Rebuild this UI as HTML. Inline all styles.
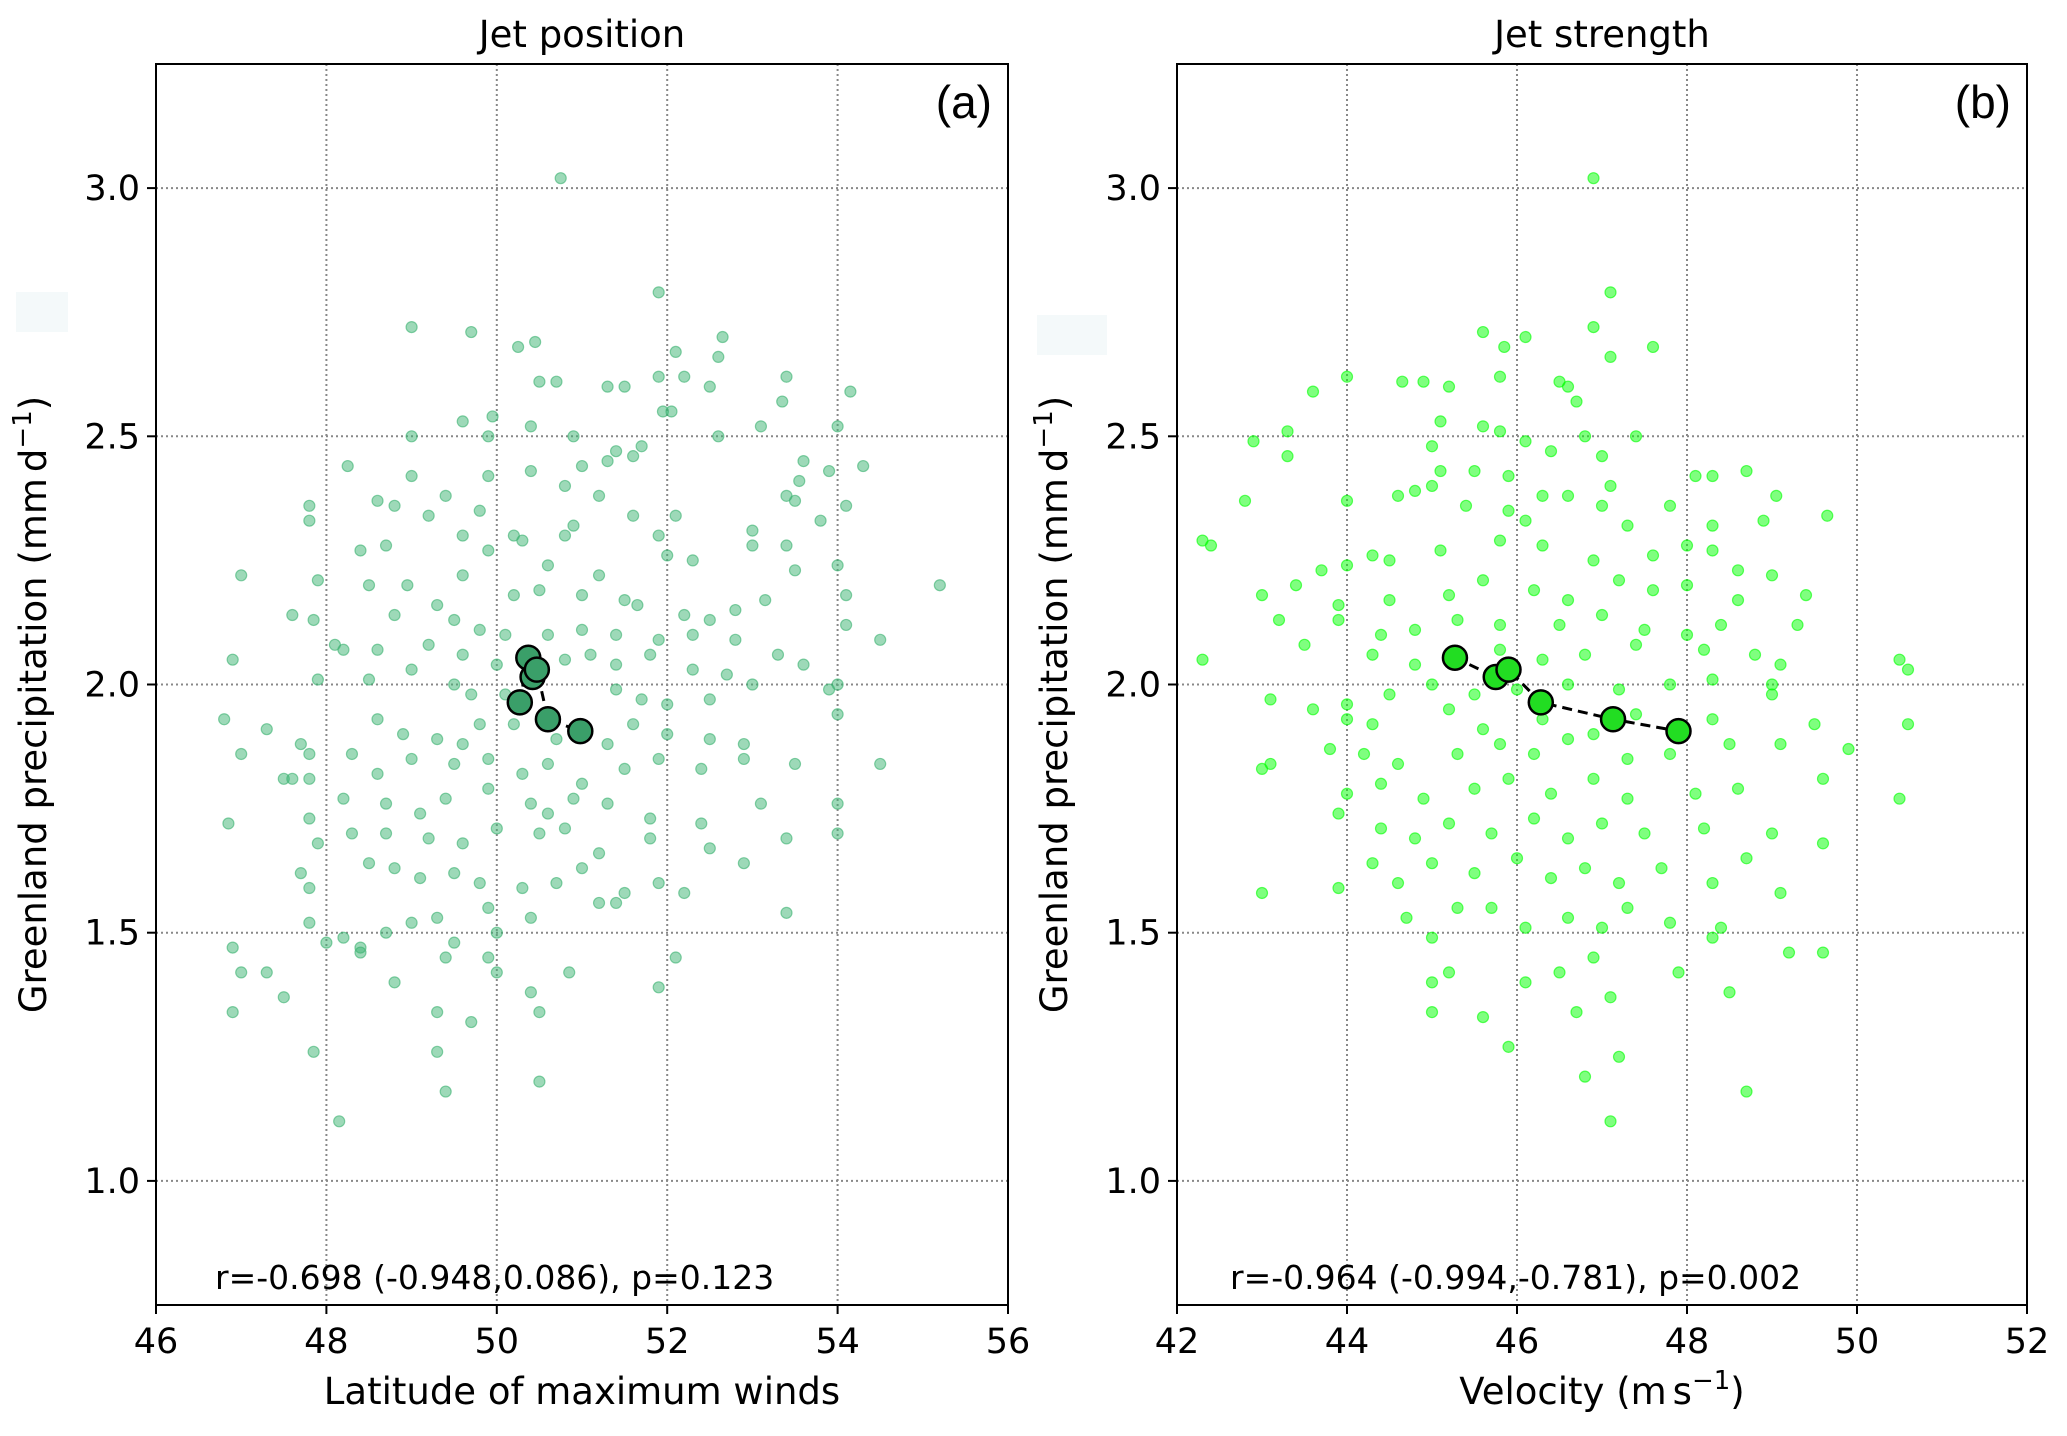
<!DOCTYPE html>
<html><head><meta charset="utf-8"><style>
body{margin:0;background:#fff}
svg{display:block;font-family:"DejaVu Sans","Liberation Sans",sans-serif}
</style></head><body>
<svg id="fig" width="2067" height="1436" viewBox="0 0 2067 1436" xmlns="http://www.w3.org/2000/svg"></svg>
<script>
const yTicks=[1.0,1.5,2.0,2.5,3.0];
const yTickLabels=["1.0","1.5","2.0","2.5","3.0"];
const xTicksA=[46,48,50,52,54,56];
const xTicksB=[42,44,46,48,50,52];
const pointsA=[[50.75,3.02],[51.9,2.79],[49.0,2.72],[49.7,2.71],[52.65,2.70],[50.25,2.68],[50.45,2.69],[52.1,2.67],[52.6,2.66],[50.5,2.61],[50.7,2.61],[51.5,2.60],[52.5,2.60],[53.4,2.62],[54.15,2.59],[51.3,2.60],[51.9,2.62],[52.2,2.62],[53.35,2.57],[51.95,2.55],[52.05,2.55],[49.0,2.50],[49.95,2.54],[49.6,2.53],[50.4,2.52],[49.9,2.50],[50.9,2.50],[52.6,2.50],[53.1,2.52],[54.0,2.52],[51.7,2.48],[51.4,2.47],[51.6,2.46],[53.6,2.45],[53.9,2.43],[54.3,2.44],[53.55,2.41],[48.25,2.44],[49.0,2.42],[49.4,2.38],[49.9,2.42],[50.4,2.43],[51.0,2.44],[51.3,2.45],[51.2,2.38],[50.8,2.40],[49.8,2.35],[47.8,2.36],[47.8,2.33],[48.6,2.37],[48.8,2.36],[48.7,2.28],[48.4,2.27],[49.2,2.34],[49.6,2.30],[50.2,2.30],[50.3,2.29],[51.6,2.34],[52.1,2.34],[53.0,2.31],[53.4,2.38],[53.5,2.37],[53.8,2.33],[54.1,2.36],[53.0,2.28],[53.4,2.28],[52.3,2.25],[51.9,2.30],[52.0,2.26],[49.9,2.27],[50.8,2.30],[50.9,2.32],[50.6,2.24],[48.95,2.20],[48.5,2.20],[47.9,2.21],[49.3,2.16],[49.6,2.22],[50.2,2.18],[50.5,2.19],[51.0,2.18],[51.2,2.22],[51.5,2.17],[51.65,2.16],[52.2,2.14],[52.5,2.13],[52.8,2.15],[53.15,2.17],[53.5,2.23],[54.0,2.24],[54.1,2.18],[54.1,2.12],[55.2,2.20],[47.0,2.22],[47.6,2.14],[47.85,2.13],[48.8,2.14],[49.5,2.13],[49.8,2.11],[50.1,2.10],[50.6,2.10],[51.0,2.11],[51.4,2.10],[51.9,2.09],[52.3,2.10],[52.8,2.09],[53.3,2.06],[53.6,2.04],[54.5,2.09],[54.0,2.00],[46.9,2.05],[48.1,2.08],[48.2,2.07],[48.6,2.07],[49.2,2.08],[49.6,2.06],[50.0,2.04],[50.8,2.05],[51.1,2.06],[51.4,2.04],[51.8,2.06],[52.3,2.03],[52.7,2.02],[53.0,2.00],[53.9,1.99],[47.9,2.01],[48.5,2.01],[49.0,2.03],[49.5,2.00],[49.7,1.98],[50.1,1.98],[51.4,1.99],[51.7,1.97],[52.0,1.96],[52.5,1.97],[46.8,1.93],[47.3,1.91],[47.7,1.88],[47.8,1.86],[48.6,1.93],[48.9,1.90],[49.3,1.89],[49.6,1.88],[49.8,1.92],[50.2,1.92],[50.7,1.89],[51.3,1.88],[51.6,1.92],[52.0,1.90],[52.5,1.89],[52.9,1.88],[53.5,1.84],[54.0,1.94],[54.5,1.84],[47.0,1.86],[47.5,1.81],[47.6,1.81],[47.8,1.81],[48.3,1.86],[48.6,1.82],[49.0,1.85],[49.5,1.84],[49.9,1.85],[50.3,1.82],[50.6,1.84],[51.0,1.80],[51.5,1.83],[51.9,1.85],[52.4,1.83],[52.9,1.85],[48.2,1.77],[48.7,1.76],[49.1,1.74],[49.4,1.77],[49.9,1.79],[50.4,1.76],[50.6,1.74],[50.9,1.77],[51.3,1.76],[51.8,1.73],[52.4,1.72],[53.1,1.76],[54.0,1.76],[47.8,1.73],[48.3,1.70],[48.7,1.70],[49.2,1.69],[49.6,1.68],[50.0,1.71],[50.5,1.70],[50.8,1.71],[51.2,1.66],[51.8,1.69],[52.5,1.67],[53.4,1.69],[54.0,1.70],[46.85,1.72],[47.7,1.62],[47.8,1.59],[47.9,1.68],[48.5,1.64],[48.8,1.63],[49.1,1.61],[49.5,1.62],[49.8,1.60],[50.3,1.59],[50.7,1.60],[51.0,1.63],[51.5,1.58],[51.9,1.60],[52.2,1.58],[52.9,1.64],[47.8,1.52],[48.2,1.49],[48.4,1.47],[48.7,1.50],[49.0,1.52],[49.3,1.53],[49.5,1.48],[49.9,1.55],[50.0,1.50],[50.4,1.53],[51.2,1.56],[51.4,1.56],[53.4,1.54],[46.9,1.47],[47.0,1.42],[47.3,1.42],[47.5,1.37],[46.9,1.34],[48.0,1.48],[48.4,1.46],[48.8,1.40],[49.4,1.45],[49.9,1.45],[50.0,1.42],[50.4,1.38],[50.85,1.42],[51.9,1.39],[52.1,1.45],[49.3,1.34],[49.7,1.32],[50.5,1.34],[47.85,1.26],[49.3,1.26],[49.4,1.18],[50.5,1.20],[48.15,1.12]];
const pointsB=[[46.9,3.02],[47.1,2.79],[45.6,2.71],[46.9,2.72],[45.85,2.68],[46.1,2.70],[47.6,2.68],[47.1,2.66],[44.0,2.62],[43.6,2.59],[44.65,2.61],[44.9,2.61],[45.2,2.60],[45.8,2.62],[46.5,2.61],[46.6,2.60],[46.7,2.57],[45.1,2.53],[45.6,2.52],[45.0,2.48],[45.1,2.43],[45.8,2.51],[46.1,2.49],[46.4,2.47],[46.8,2.50],[47.4,2.50],[47.0,2.46],[42.9,2.49],[43.3,2.51],[43.3,2.46],[44.6,2.38],[44.8,2.39],[45.0,2.40],[45.5,2.43],[45.9,2.42],[46.3,2.38],[46.6,2.38],[47.1,2.40],[48.1,2.42],[48.3,2.42],[48.7,2.43],[42.8,2.37],[44.0,2.37],[45.4,2.36],[45.9,2.35],[46.1,2.33],[47.0,2.36],[47.3,2.32],[47.8,2.36],[48.3,2.32],[48.9,2.33],[49.65,2.34],[49.05,2.38],[42.3,2.29],[42.4,2.28],[43.7,2.23],[44.0,2.24],[44.3,2.26],[44.5,2.25],[45.1,2.27],[45.8,2.29],[46.3,2.28],[46.9,2.25],[47.6,2.26],[48.0,2.28],[48.3,2.27],[48.6,2.23],[43.4,2.20],[43.0,2.18],[43.9,2.16],[44.5,2.17],[45.2,2.18],[45.6,2.21],[46.2,2.19],[46.6,2.17],[47.2,2.21],[47.6,2.19],[48.0,2.20],[48.6,2.17],[49.0,2.22],[49.4,2.18],[43.2,2.13],[43.9,2.13],[44.4,2.10],[44.8,2.11],[45.3,2.13],[45.8,2.12],[46.5,2.12],[47.0,2.14],[47.5,2.11],[48.0,2.10],[48.4,2.12],[49.3,2.12],[43.5,2.08],[44.3,2.06],[44.8,2.04],[45.8,2.07],[46.3,2.05],[46.8,2.06],[47.4,2.08],[48.2,2.07],[48.8,2.06],[49.1,2.04],[42.3,2.05],[50.5,2.05],[50.6,2.03],[44.0,1.96],[44.5,1.98],[45.0,2.00],[45.5,1.98],[46.0,1.99],[46.6,2.00],[47.2,1.99],[47.8,2.00],[48.3,2.01],[49.0,1.98],[49.0,2.00],[43.1,1.97],[43.6,1.95],[44.0,1.93],[44.3,1.92],[45.2,1.95],[45.6,1.91],[46.3,1.93],[46.9,1.90],[47.4,1.94],[48.3,1.93],[49.5,1.92],[50.6,1.92],[43.0,1.83],[43.1,1.84],[43.8,1.87],[44.2,1.86],[44.6,1.84],[45.3,1.86],[45.8,1.88],[46.2,1.86],[46.6,1.89],[47.3,1.85],[47.8,1.86],[48.5,1.88],[49.1,1.88],[49.9,1.87],[49.6,1.81],[44.0,1.78],[44.4,1.80],[44.9,1.77],[45.5,1.79],[45.9,1.81],[46.4,1.78],[46.9,1.81],[47.3,1.77],[48.1,1.78],[48.6,1.79],[43.9,1.74],[44.4,1.71],[44.8,1.69],[45.2,1.72],[45.7,1.70],[46.2,1.73],[46.6,1.69],[47.0,1.72],[47.5,1.70],[48.2,1.71],[49.0,1.70],[49.6,1.68],[50.5,1.77],[44.3,1.64],[44.6,1.60],[45.0,1.64],[45.5,1.62],[46.0,1.65],[46.4,1.61],[46.8,1.63],[47.2,1.60],[47.7,1.63],[48.3,1.60],[48.7,1.65],[49.1,1.58],[43.9,1.59],[43.0,1.58],[44.7,1.53],[45.0,1.49],[45.3,1.55],[45.7,1.55],[46.1,1.51],[46.6,1.53],[47.0,1.51],[47.3,1.55],[47.8,1.52],[48.3,1.49],[48.4,1.51],[49.2,1.46],[49.6,1.46],[45.0,1.40],[45.2,1.42],[46.1,1.40],[46.5,1.42],[46.9,1.45],[47.1,1.37],[47.9,1.42],[48.5,1.38],[45.0,1.34],[45.6,1.33],[46.7,1.34],[45.9,1.27],[47.2,1.25],[46.8,1.21],[48.7,1.18],[47.1,1.12]];
const binsAx=[50.37,50.42,50.47,50.27,50.6,50.98];
const binsAy=[2.054,2.015,2.03,1.964,1.93,1.906];
const binsBx=[45.27,45.75,45.9,46.28,47.13,47.9];
const binsBy=[2.054,2.015,2.03,1.964,1.93,1.906];

const NS="http://www.w3.org/2000/svg";
const svg=document.getElementById('fig');
function mk(tag,attrs,parent,text){const e=document.createElementNS(NS,tag);for(const k in attrs)e.setAttribute(k,attrs[k]);if(text!==undefined)e.textContent=text;(parent||svg).appendChild(e);return e;}
const TOP=64,BOT=1305,YMIN=0.75,YMAX=3.25;
function yS(v){return BOT-(v-YMIN)/(YMAX-YMIN)*(BOT-TOP);}

function panel(cfg){
  const g=mk('g',{});
  
  
  const xS=v=>cfg.L+(v-cfg.xmin)/(cfg.xmax-cfg.xmin)*(cfg.R-cfg.L);
  const ar=mk('rect',{x:cfg.L-140,y:cfg.artY,width:cfg.artW,height:40,fill:'#f4f9fa'},g);
  
  cfg.xticks.forEach(t=>{const l=mk('line',{x1:xS(t),x2:xS(t),y1:TOP,y2:BOT,stroke:'#888',"stroke-width":2,"stroke-dasharray":"2,3"},g);});
  yTicks.forEach(t=>{const l=mk('line',{x1:cfg.L,x2:cfg.R,y1:yS(t),y2:yS(t),stroke:'#888',"stroke-width":2,"stroke-dasharray":"2,3"},g);});
  cfg.pts.forEach(p=>{const c=mk('circle',{cx:xS(p[0]),cy:yS(p[1]),r:5.5,fill:cfg.col,"fill-opacity":0.5,stroke:cfg.col,"stroke-opacity":0.6,"stroke-width":1.2},g);});
  const idx=cfg.bx.map((v,i)=>i).sort((a,b)=>cfg.bx[a]-cfg.bx[b]);
  const d=idx.map((i,k)=>(k?'L':'M')+xS(cfg.bx[i])+','+yS(cfg.by[i])).join(' ');
  const pl=mk('path',{d:d,fill:'none',stroke:'#000',"stroke-width":3,"stroke-dasharray":"10,6"},g);
  
  cfg.bx.forEach((v,i)=>{const c=mk('circle',{cx:xS(v),cy:yS(cfg.by[i]),r:12,fill:cfg.bcol,stroke:'#000',"stroke-width":2.5},g);});
  const fr=mk('rect',{x:cfg.L,y:TOP,width:cfg.R-cfg.L,height:BOT-TOP,fill:'none',stroke:'#000',"stroke-width":2},g);
  
  cfg.xticks.forEach(t=>{mk('line',{x1:xS(t),x2:xS(t),y1:BOT,y2:BOT+9,stroke:'#000',"stroke-width":2},g);
    const tx=mk('text',{x:xS(t),y:BOT+48,"text-anchor":"middle","font-size":35},g,String(t));});
  yTicks.forEach((t,i)=>{mk('line',{x1:cfg.L-9,x2:cfg.L,y1:yS(t),y2:yS(t),stroke:'#000',"stroke-width":2},g);
    const tx=mk('text',{x:cfg.L-16,y:yS(t)+12,"text-anchor":"end","font-size":35},g,yTickLabels[i]);});
  const ti=mk('text',{x:(cfg.L+cfg.R)/2,y:47,"text-anchor":"middle","font-size":37},g,cfg.title);
  const pl2=mk('text',{x:cfg.R-16,y:118,"text-anchor":"end","font-size":46,"font-family":"Liberation Sans, sans-serif"},g,cfg.tag);
  const an=mk('text',{x:cfg.annX,y:1289,"font-size":33},g,cfg.ann);
  const xl=mk('text',{x:(cfg.L+cfg.R)/2,y:1404,"text-anchor":"middle","font-size":37},g);
  xl.innerHTML=cfg.xlabel;
  const yx=cfg.L-110,yy=(TOP+BOT)/2+20;
  const yl=mk('text',{x:yx,y:yy,"text-anchor":"middle","font-size":37,transform:`rotate(-90 ${yx} ${yy})`},g);
  yl.innerHTML='Greenland precipitation (mm<tspan dx="6">d</tspan><tspan dy="-15" font-size="26">−1</tspan><tspan dy="15">)</tspan>';
  
}
panel({name:'panel-jet-position',L:156,R:1008,xmin:46,xmax:56,xticks:xTicksA,pts:pointsA,col:'#3cb371',bcol:'#3a9f69',bx:binsAx,by:binsAy,title:'Jet position',tag:'(a)',ann:'r=-0.698 (-0.948,0.086), p=0.123',annX:215,xlabel:'Latitude of maximum winds',artY:292,artW:52});
panel({name:'panel-jet-strength',L:1177,R:2027,xmin:42,xmax:52,xticks:xTicksB,pts:pointsB,col:'#00ff00',bcol:'#22dd22',bx:binsBx,by:binsBy,title:'Jet strength',tag:'(b)',ann:'r=-0.964 (-0.994,-0.781), p=0.002',annX:1230,xlabel:'Velocity (m<tspan dx="6">s</tspan><tspan dy="-15" font-size="26">−1</tspan><tspan dy="15">)</tspan>',artY:315,artW:70});
</script>
</body></html>
